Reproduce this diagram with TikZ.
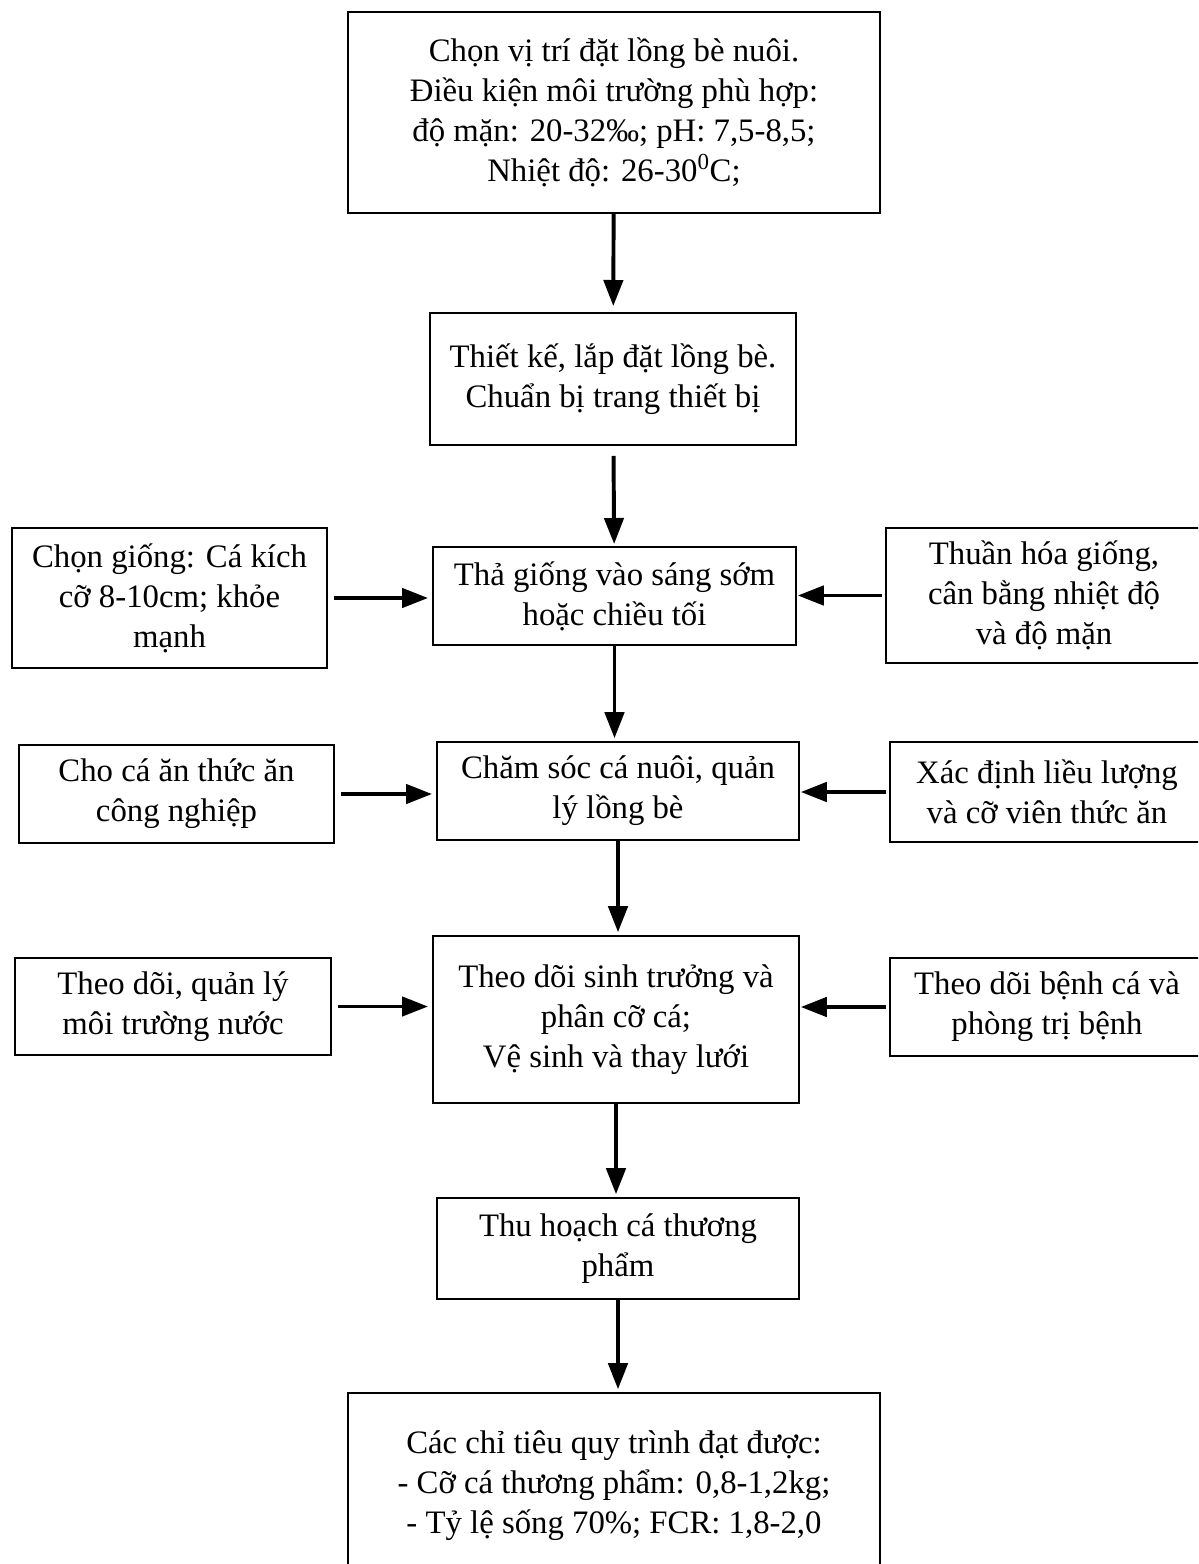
\documentclass[tikz,border=0pt]{standalone}
\usepackage{fontspec}
\setmainfont{Liberation Serif}
\usetikzlibrary{arrows.meta}
\tikzset{
	box/.style={draw, line width=1.4pt, inner sep=0pt, align=center,
		font=\fontsize{23.3}{28.5}\selectfont},
	sz/.style 2 args={minimum width=#1*0.025cm, minimum height=#2*0.025cm},
	flow/.style={line width=2.8pt, -{Triangle[length=0.65cm,width=0.48cm]}},
}
\begin{document}
\begin{tikzpicture}[x=0.025cm, y=-0.025cm]
		\clip (0, 0) rectangle (1198, 1564);
		% main steps
		\node[box, sz={532}{201}] (chon) at (614, 112.5) {Chọn vị trí đặt lồng bè nuôi.\\ Điều kiện môi trường phù hợp:\\ độ mặn: 20-32‰; pH: 7,5-8,5;\\ Nhiệt độ: 26-30\textsuperscript{0}C;};
		\node[box, sz={366}{132}] (thietke) at (613, 379) {Thiết kế, lắp đặt lồng bè.\\ Chuẩn bị trang thiết bị};
		\node[box, sz={363}{98}] (tha) at (614.5, 596) {Thả giống vào sáng sớm\\ hoặc chiều tối};
		\node[box, sz={362}{98}] (chamsoc) at (618, 791) {Chăm sóc cá nuôi, quản\\ lý lồng bè};
		\node[box, sz={366}{167}] (theodoi) at (616, 1019.5) {Theo dõi sinh trưởng và\\ phân cỡ cá;\\ Vệ sinh và thay lưới};
		\node[box, sz={362}{101}] (thuhoach) at (618, 1248.5) {Thu hoạch cá thương\\ phẩm};
		\node[box, sz={532}{185}] (chitieu) at (614, 1485.5) {Các chỉ tiêu quy trình đạt được:\\ - Cỡ cá thương phẩm: 0,8-1,2kg;\\ - Tỷ lệ sống 70\%; FCR: 1,8-2,0};
		% side boxes
		\node[box, sz={315}{140}] (giong) at (169.5, 598) {Chọn giống: Cá kích\\ cỡ 8-10cm; khỏe\\ mạnh};
		\node[box, sz={316}{135}] (thuanhoa) at (1044, 595.5) {Thuần hóa giống,\\ cân bằng nhiệt độ\\ và độ mặn};
		\node[box, sz={315}{98}] (thucan) at (176.5, 794) {Cho cá ăn thức ăn\\ công nghiệp};
		\node[box, sz={314}{100}] (lieuluong) at (1047, 792) {Xác định liều lượng\\ và cỡ viên thức ăn};
		\node[box, sz={316}{97}] (moitruong) at (173, 1006.5) {Theo dõi, quản lý\\ môi trường nước};
		\node[box, sz={314}{98}] (benh) at (1047, 1007) {Theo dõi bệnh cá và\\ phòng trị bệnh};
		% arrows down
		\draw[flow, shorten >=0.15cm] (chon) -- (thietke);
		\draw[flow, shorten <=0.25cm, shorten >=0.05cm] (thietke) -- (tha);
		\foreach \a/\b in {tha/chamsoc, chamsoc/theodoi, theodoi/thuhoach, thuhoach/chitieu}{
			\draw[flow, shorten >=0.07cm] (\a.south) -- (\a.south |- \b.north);
		}
		% arrows from the sides
		\foreach \a/\b in {giong/tha, thucan/chamsoc, moitruong/theodoi}{
			\draw[flow, shorten <=0.15cm, shorten >=0.1cm] (\a.east) -- (\a.east -| \b.west);
		}
		\foreach \a/\b in {thuanhoa/tha, lieuluong/chamsoc, benh/theodoi}{
			\draw[flow, shorten <=0.07cm, shorten >=0.02cm] (\a.west) -- (\a.west -| \b.east);
		}
	\end{tikzpicture}
\end{document}
